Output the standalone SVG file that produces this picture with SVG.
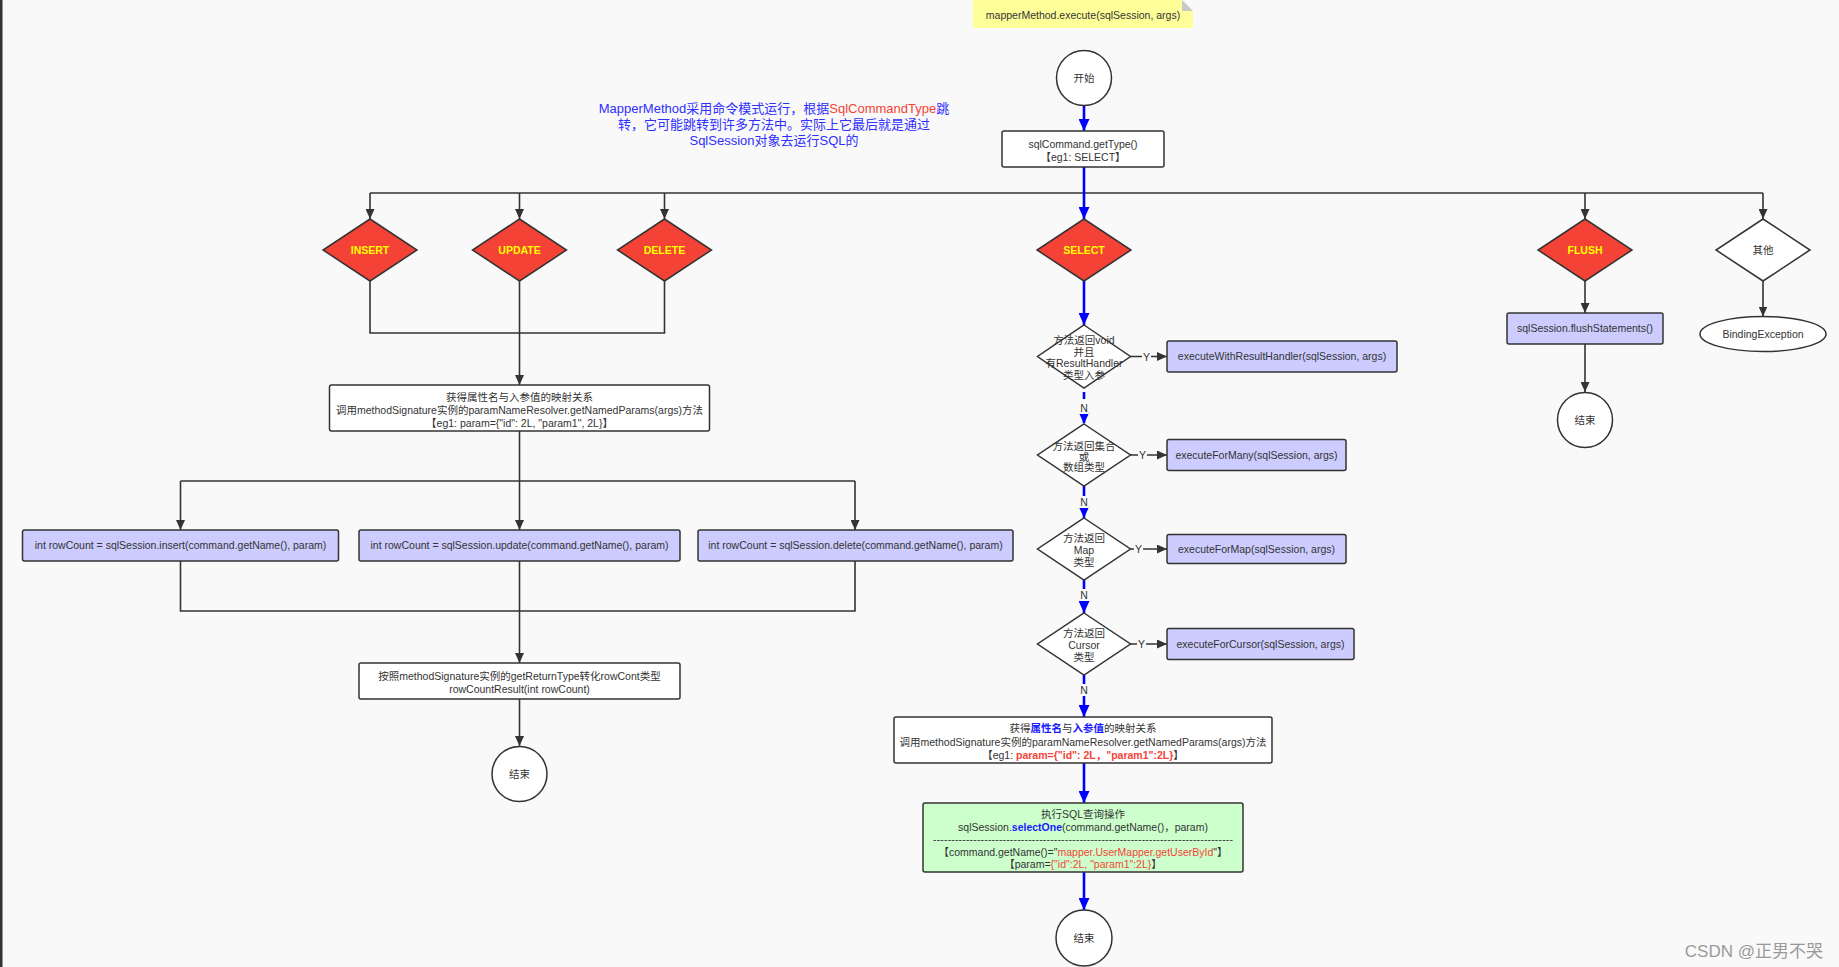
<svg xmlns="http://www.w3.org/2000/svg" width="1839" height="967" viewBox="0 0 1839 967">
<style>
text{font-family:"Liberation Sans",Arial,"Noto Sans CJK SC",sans-serif;font-size:10.5px;fill:#333;text-anchor:middle}
.box{stroke:#333;stroke-width:1.5}
.w{fill:#fff}
.lav{fill:#ccccff}
.red{fill:#f44336}
.dk{fill:none;stroke:#333;stroke-width:1.6}
.bl{fill:none;stroke:#0000ff;stroke-width:2.6}
.lbl{font-size:10.5px;fill:#333}
.dia{font-size:10.5px;font-weight:bold;fill:#ffff00}
.cm{font-size:13px;fill:#2f2fff}
.r{fill:#f44336}
.b{fill:#1a1aff;font-weight:bold}
.rb{fill:#f44336;font-weight:bold}
</style>
<defs>
<marker id="ad" markerUnits="userSpaceOnUse" markerWidth="10" markerHeight="9" refX="10" refY="4.5" orient="auto"><path d="M0,0 L10,4.5 L0,9 z" fill="#333"/></marker>
<marker id="ab" markerUnits="userSpaceOnUse" markerWidth="12" markerHeight="11" refX="12" refY="5.5" orient="auto"><path d="M0,0 L12,5.5 L0,11 z" fill="#0000ff"/></marker>
</defs>
<rect x="0" y="0" width="1839" height="967" fill="#f9f9f9"/>
<rect x="0" y="0" width="2.5" height="967" fill="#333"/>

<g id="connectors">
<line class="bl" x1="1084" y1="105" x2="1084" y2="131" marker-end="url(#ab)"/>
<line class="dk" x1="370" y1="193" x2="1763" y2="193"/>
<line class="bl" x1="1084" y1="167" x2="1084" y2="219" marker-end="url(#ab)"/>
<line class="dk" x1="370" y1="193" x2="370" y2="219" marker-end="url(#ad)"/>
<line class="dk" x1="519.5" y1="193" x2="519.5" y2="219" marker-end="url(#ad)"/>
<line class="dk" x1="664.5" y1="193" x2="664.5" y2="219" marker-end="url(#ad)"/>
<line class="dk" x1="1585" y1="193" x2="1585" y2="219" marker-end="url(#ad)"/>
<line class="dk" x1="1763" y1="193" x2="1763" y2="219" marker-end="url(#ad)"/>
<polyline class="dk" points="370,281 370,333 664.5,333 664.5,281"/>
<line class="dk" x1="519.5" y1="281" x2="519.5" y2="385" marker-end="url(#ad)"/>
<line class="dk" x1="519.5" y1="431" x2="519.5" y2="530" marker-end="url(#ad)"/>
<line class="dk" x1="180.5" y1="481" x2="855" y2="481"/>
<line class="dk" x1="180.5" y1="481" x2="180.5" y2="530" marker-end="url(#ad)"/>
<line class="dk" x1="855" y1="481" x2="855" y2="530" marker-end="url(#ad)"/>
<polyline class="dk" points="180.5,561 180.5,611 855,611 855,561"/>
<line class="dk" x1="519.5" y1="561" x2="519.5" y2="663" marker-end="url(#ad)"/>
<line class="dk" x1="519.5" y1="699" x2="519.5" y2="746" marker-end="url(#ad)"/>
<line class="dk" x1="1585" y1="281" x2="1585" y2="313" marker-end="url(#ad)"/>
<line class="dk" x1="1585" y1="344" x2="1585" y2="392" marker-end="url(#ad)"/>
<line class="dk" x1="1763" y1="281" x2="1763" y2="316.5" marker-end="url(#ad)"/>
<line class="bl" x1="1084" y1="281" x2="1084" y2="325" marker-end="url(#ab)"/>
<line class="bl" x1="1084" y1="392" x2="1084" y2="424" marker-end="url(#ab)" stroke-dasharray="7,5"/>
<line class="bl" x1="1084" y1="486" x2="1084" y2="518" marker-end="url(#ab)"/>
<line class="bl" x1="1084" y1="580" x2="1084" y2="613" marker-end="url(#ab)"/>
<line class="bl" x1="1084" y1="675" x2="1084" y2="717" marker-end="url(#ab)"/>
<line class="bl" x1="1084" y1="763" x2="1084" y2="803" marker-end="url(#ab)"/>
<line class="bl" x1="1084" y1="872" x2="1084" y2="910" marker-end="url(#ab)"/>
<line class="dk" x1="1130" y1="356.5" x2="1167" y2="356.5" marker-end="url(#ad)"/>
<line class="dk" x1="1130" y1="455" x2="1167" y2="455" marker-end="url(#ad)"/>
<line class="dk" x1="1130" y1="549" x2="1167" y2="549" marker-end="url(#ad)"/>
<line class="dk" x1="1130" y1="644" x2="1167" y2="644" marker-end="url(#ad)"/>
<g>
<rect x="1142" y="350" width="9" height="13" fill="#f9f9f9"/><text class="lbl" x="1146.5" y="360.5">Y</text>
<rect x="1138" y="448.5" width="9" height="13" fill="#f9f9f9"/><text class="lbl" x="1142.5" y="459">Y</text>
<rect x="1134" y="542.5" width="9" height="13" fill="#f9f9f9"/><text class="lbl" x="1138.5" y="553">Y</text>
<rect x="1137" y="637.5" width="9" height="13" fill="#f9f9f9"/><text class="lbl" x="1141.5" y="648">Y</text>
<rect x="1079" y="402" width="10" height="12" fill="#f9f9f9"/><text class="lbl" x="1084" y="411.5">N</text>
<rect x="1079" y="496" width="10" height="12" fill="#f9f9f9"/><text class="lbl" x="1084" y="505.5">N</text>
<rect x="1079" y="589" width="10" height="12" fill="#f9f9f9"/><text class="lbl" x="1084" y="598.5">N</text>
<rect x="1079" y="684" width="10" height="12" fill="#f9f9f9"/><text class="lbl" x="1084" y="693.5">N</text>
</g>
</g>

<g id="note">
<polygon points="973,0 1182,0 1193,11 1193,28 973,28" fill="#ffff99"/>
<polygon points="1182,0 1193,11 1182,11" fill="#c8c8c8"/>
<text x="1083" y="19">mapperMethod.execute(sqlSession, args)</text>
</g>

<g id="comment">
<text class="cm" x="774" y="112.5">MapperMethod采用命令模式运行，根据<tspan class="r">SqlCommandType</tspan>跳</text>
<text class="cm" x="774" y="128.5">转，它可能跳转到许多方法中。实际上它最后就是通过</text>
<text class="cm" x="774" y="144.5">SqlSession对象去运行SQL的</text>
</g>

<g id="start">
<circle class="box w" cx="1084" cy="78" r="27.5"/>
<text x="1084" y="82">开始</text>
</g>

<g id="getType">
<rect class="box w" x="1002" y="131" width="162" height="36" rx="2"/>
<text x="1083" y="148">sqlCommand.getType()</text>
<text x="1083" y="161">【eg1: SELECT】</text>
</g>

<g id="insert"><polygon class="box red" points="370,219 417,250 370,281 323,250"/><text class="dia" x="370" y="254">INSERT</text></g>
<g id="update"><polygon class="box red" points="519.5,219 566.5,250 519.5,281 472.5,250"/><text class="dia" x="519.5" y="254">UPDATE</text></g>
<g id="delete"><polygon class="box red" points="664.5,219 711.5,250 664.5,281 617.5,250"/><text class="dia" x="664.5" y="254">DELETE</text></g>
<g id="select"><polygon class="box red" points="1084,219 1131,250 1084,281 1037,250"/><text class="dia" x="1084" y="254">SELECT</text></g>
<g id="flush"><polygon class="box red" points="1585,219 1632,250 1585,281 1538,250"/><text class="dia" x="1585" y="254">FLUSH</text></g>
<g id="other"><polygon class="box w" points="1763,219 1810,250 1763,281 1716,250"/><text x="1763" y="254">其他</text></g>

<g id="paramsLeft">
<rect class="box w" x="329.5" y="385" width="380" height="46" rx="2"/>
<text x="519.5" y="401">获得属性名与入参值的映射关系</text>
<text x="519.5" y="414">调用methodSignature实例的paramNameResolver.getNamedParams(args)方法</text>
<text x="519.5" y="427">【eg1: param={"id": 2L, "param1", 2L}】</text>
</g>

<g id="insertCall"><rect class="box lav" x="22.5" y="530" width="316" height="31" rx="2"/><text x="180.5" y="549">int rowCount = sqlSession.insert(command.getName(), param)</text></g>
<g id="updateCall"><rect class="box lav" x="359" y="530" width="321" height="31" rx="2"/><text x="519.5" y="549">int rowCount = sqlSession.update(command.getName(), param)</text></g>
<g id="deleteCall"><rect class="box lav" x="698" y="530" width="315" height="31" rx="2"/><text x="855.5" y="549">int rowCount = sqlSession.delete(command.getName(), param)</text></g>

<g id="rowCountResult">
<rect class="box w" x="359" y="663" width="321" height="36" rx="2"/>
<text x="519.5" y="680">按照methodSignature实例的getReturnType转化rowCont类型</text>
<text x="519.5" y="693">rowCountResult(int rowCount)</text>
</g>
<g id="endLeft"><circle class="box w" cx="519.5" cy="774" r="27.5"/><text x="519.5" y="778">结束</text></g>

<g id="d1">
<polygon class="box w" points="1084,325 1130.5,356.5 1084,388 1037.5,356.5"/>
<text x="1084" y="344">方法返回void</text>
<text x="1084" y="356">并且</text>
<text x="1084" y="367">有ResultHandler</text>
<text x="1084" y="379">类型入参</text>
</g>
<g id="e1"><rect class="box lav" x="1167" y="341" width="230" height="31" rx="2"/><text x="1282" y="360">executeWithResultHandler(sqlSession, args)</text></g>

<g id="d2">
<polygon class="box w" points="1084,424 1130.5,455 1084,486 1037.5,455"/>
<text x="1084" y="449.5">方法返回集合</text>
<text x="1084" y="460.5">或</text>
<text x="1084" y="471">数组类型</text>
</g>
<g id="e2"><rect class="box lav" x="1167" y="439.5" width="179" height="31" rx="2"/><text x="1256.5" y="458.5">executeForMany(sqlSession, args)</text></g>

<g id="d3">
<polygon class="box w" points="1084,518 1130.5,549 1084,580 1037.5,549"/>
<text x="1084" y="541.5">方法返回</text>
<text x="1084" y="553.5">Map</text>
<text x="1084" y="566">类型</text>
</g>
<g id="e3"><rect class="box lav" x="1167" y="534.5" width="179" height="29" rx="2"/><text x="1256.5" y="552.5">executeForMap(sqlSession, args)</text></g>

<g id="d4">
<polygon class="box w" points="1084,613 1130.5,644 1084,675 1037.5,644"/>
<text x="1084" y="636.5">方法返回</text>
<text x="1084" y="649">Cursor</text>
<text x="1084" y="661">类型</text>
</g>
<g id="e4"><rect class="box lav" x="1167" y="628.5" width="187" height="31" rx="2"/><text x="1260.5" y="647.5">executeForCursor(sqlSession, args)</text></g>

<g id="paramsRight">
<rect class="box w" x="894" y="717" width="378" height="46" rx="2"/>
<text x="1083" y="732">获得<tspan class="b">属性名</tspan>与<tspan class="b">入参值</tspan>的映射关系</text>
<text x="1083" y="746">调用methodSignature实例的paramNameResolver.getNamedParams(args)方法</text>
<text x="1083" y="759">【eg1: <tspan class="rb">param={"id": 2L，"param1":2L}</tspan>】</text>
</g>

<g id="selectOne">
<rect class="box" fill="#ccffcc" x="923" y="803" width="320" height="69" rx="2"/>
<text x="1083" y="818">执行SQL查询操作</text>
<text x="1083" y="831">sqlSession.<tspan class="b">selectOne</tspan>(command.getName()，param)</text>
<text x="1083" y="843" textLength="300" lengthAdjust="spacing">----------------------------------------------------------------------------------</text>
<text x="1083" y="856">【command.getName()="<tspan class="r">mapper.UserMapper.getUserById</tspan>"】</text>
<text x="1083" y="868">【param=<tspan class="r">{"id":2L, "param1":2L}</tspan>】</text>
</g>
<g id="endSelect"><circle class="box w" cx="1084" cy="938" r="28"/><text x="1084" y="942">结束</text></g>

<g id="flushCall"><rect class="box lav" x="1507" y="313" width="156" height="31" rx="2"/><text x="1585" y="332">sqlSession.flushStatements()</text></g>
<g id="endFlush"><circle class="box w" cx="1585" cy="420" r="27.5"/><text x="1585" y="424">结束</text></g>
<g id="bindingException"><ellipse class="box w" cx="1763" cy="334" rx="63" ry="17.5"/><text x="1763" y="338">BindingException</text></g>

<text x="1823" y="957" style="font-size:17px;fill:#999;text-anchor:end">CSDN @正男不哭</text>
</svg>
